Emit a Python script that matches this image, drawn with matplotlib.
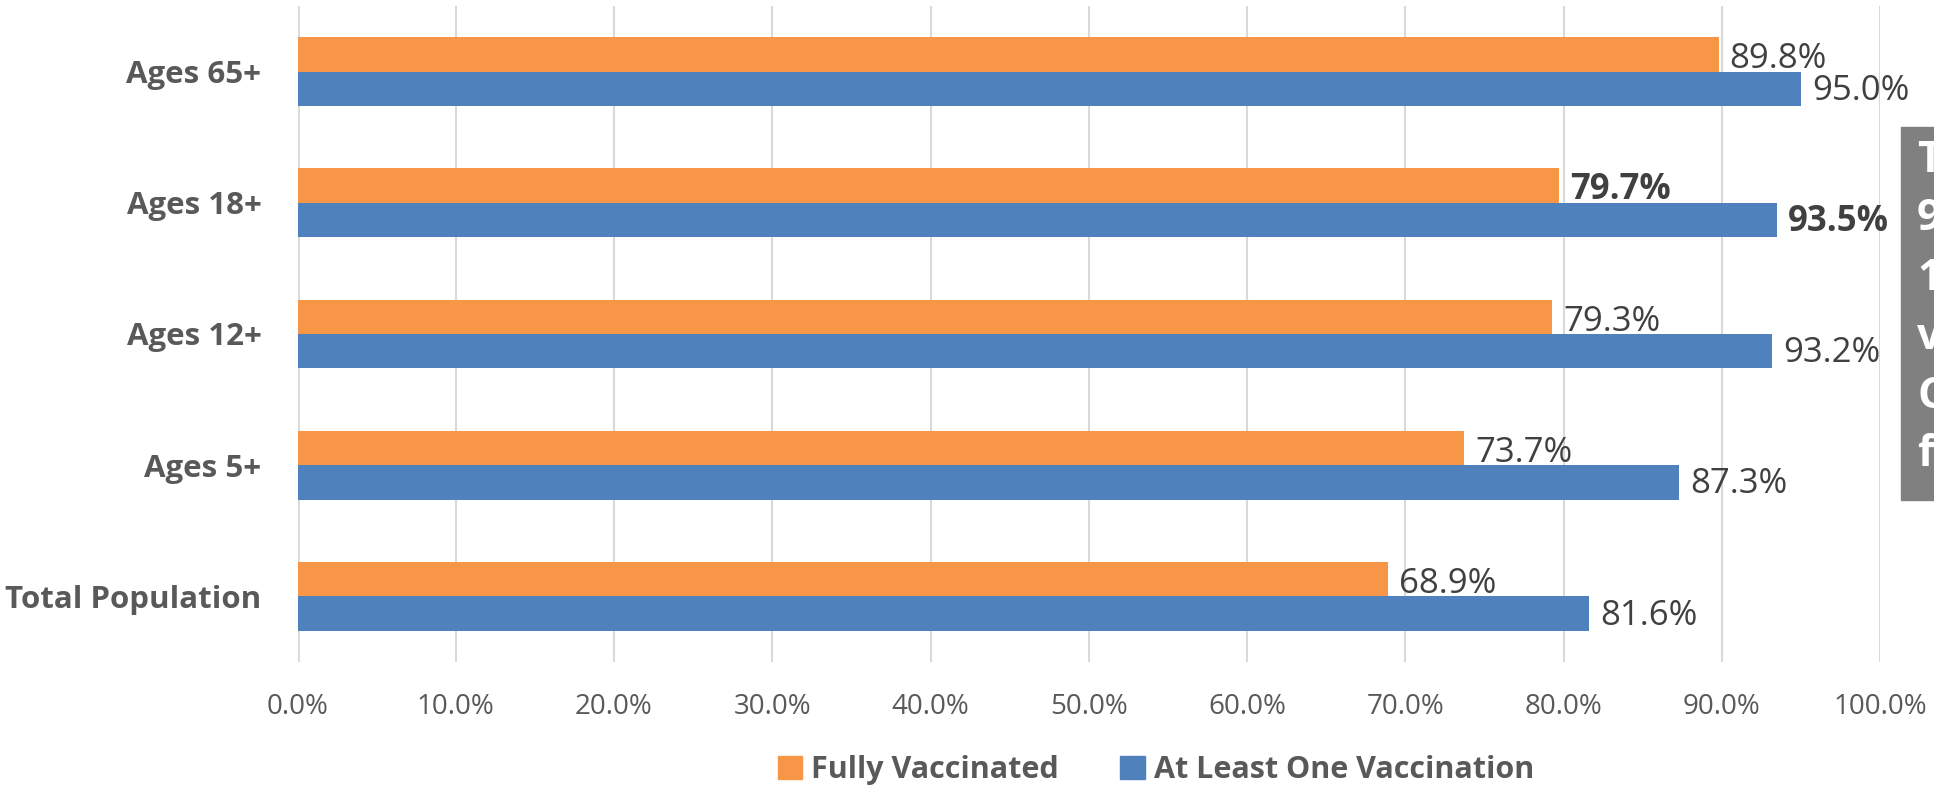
import matplotlib
matplotlib.use("Agg")
import matplotlib.pyplot as plt
from matplotlib.patches import Patch, Rectangle
import numpy as np

# data (bottom to top)
categories = ["Total Population", "Ages 5+", "Ages 12+", "Ages 18+", "Ages 65+"]
fully_vaccinated = [68.9, 73.7, 79.3, 79.7, 89.8]
at_least_one = [81.6, 87.3, 93.2, 93.5, 95.0]
bold_labels = ["Ages 18+"]
xticks = np.arange(0, 101, 10)
side_chars = ["T", "9", "1", "v", "C", "f"]

ORANGE = "#F79646"
BLUE = "#4F81BD"
GRID = "#D9D9D9"
TXT = "#595959"
VAL = "#404040"

plt.rcParams["font.family"] = ["Open Sans", "DejaVu Sans"]

W, H = 1934, 787
fig = plt.figure(figsize=(W / 100, H / 100), dpi=100)
ax = fig.add_axes([297.5 / W, (H - 662) / H, 1582.5 / W, 656 / H])

y = np.arange(len(categories))
h = 0.262
ax.barh(y + h / 2, fully_vaccinated, height=h, color=ORANGE, zorder=3)
ax.barh(y - h / 2, at_least_one, height=h, color=BLUE, zorder=3)

for yi, cat, fv, al in zip(y, categories, fully_vaccinated, at_least_one):
    wt = "bold" if cat in bold_labels else "normal"
    ax.annotate(f"{fv:.1f}%", (fv, yi + h / 2), xytext=(8, -3.5),
                textcoords="offset points", va="center", ha="left",
                fontsize=25, color=VAL, fontweight=wt, zorder=4)
    ax.annotate(f"{al:.1f}%", (al, yi - h / 2), xytext=(8, -1.5),
                textcoords="offset points", va="center", ha="left",
                fontsize=25, color=VAL, fontweight=wt, zorder=4)

ax.set_xlim(0, 100)
ax.set_ylim(-0.5, len(categories) - 0.5)
ax.set_xticks(xticks)
ax.set_xticklabels([f"{v:.1f}%" for v in xticks])
ax.set_yticks(y)
ax.set_yticklabels(categories)
ax.tick_params(axis="x", length=0, pad=22, labelsize=20, labelcolor=TXT)
ax.tick_params(axis="y", length=0, pad=26, labelsize=22.5, labelcolor=TXT)
for lab in ax.get_yticklabels():
    lab.set_fontweight("bold")
ax.grid(axis="x", color=GRID, linewidth=1.5, zorder=0)
for s in ax.spines.values():
    s.set_visible(False)
ax.axvline(0, color=GRID, linewidth=2, zorder=2)

handles = [Patch(color=ORANGE, label="Fully Vaccinated"),
           Patch(color=BLUE, label="At Least One Vaccination")]
leg = fig.legend(handles=handles, loc="center", ncol=2,
                 bbox_to_anchor=(1156 / W, (H - 770) / H), frameon=False,
                 handlelength=0.8, handleheight=0.8, handletextpad=0.3,
                 columnspacing=2.0, prop={"size": 22, "weight": "bold"})
for t in leg.get_texts():
    t.set_color(TXT)

# grey side box cut by the right edge
fig.patches.append(Rectangle((1901 / W, (H - 500) / H), 60 / W, 373 / H,
                             transform=fig.transFigure, color="#808080",
                             zorder=1))
for i, ch in enumerate(side_chars):
    fig.text(1917 / W, (H - (160 + 59 * i)) / H, ch, color="white",
             fontsize=31, fontweight="bold", va="center", ha="left")

fig.savefig("out.png", dpi=100)
